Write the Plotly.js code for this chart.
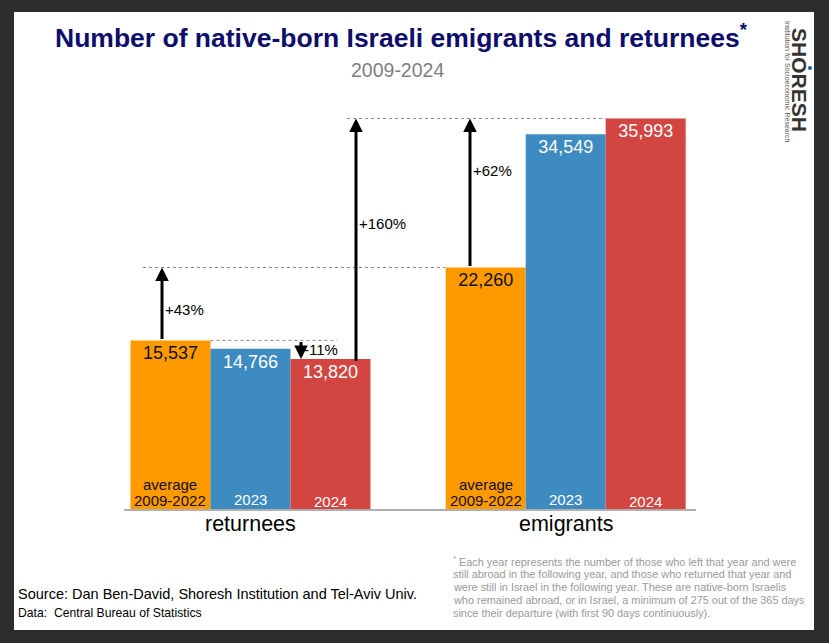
<!DOCTYPE html>
<html><head><meta charset="utf-8">
<script src="https://cdn.plot.ly/plotly-3.0.1.min.js"></script>
<style>html,body{margin:0;padding:0;background:#2d2d2d;overflow:hidden}#chart{width:829px;height:643px}</style>
</head><body><div id="chart"></div><script>
// ---- data ----
const groups = ['returnees', 'emigrants'];
const seriesNames = ['average<br>2009-2022', '2023', '2024'];
const averageValues = [15537, 22260];
const values2023 = [14766, 34549];
const values2024 = [13820, 35993];
const footnoteLines = [
  'Each year represents the number of those who left that year and were',
  'still abroad in the following year, and those who returned that year and',
  'were still in Israel in the following year. These are native-born Israelis',
  'who remained abroad, or in Israel, a minimum of 275 out of the 365 days',
  'since their departure (with first 90 days continuously).'
];

// ---- styling / layout helpers ----
const W = 829, H = 643;
const M = {l: 124, r: 133, t: 75, b: 134};
const plotW = W - M.l - M.r, plotH = H - M.t - M.b;
const G = 3.94;               // distance between group starts (in bar widths)
const xMin = -0.581, xMax = xMin + plotW / 80;
const px2x = p => xMin + (p - M.l) / 80;
const pxToPaperX = p => (p - M.l) / plotW;
const pxToPaperY = p => (H - M.b - p) / plotH;

const colors = ['#FF9900', '#3D8BC0', '#D34541'];
const textColors = ['#111111', '#ffffff', '#ffffff'];
const allSeries = [averageValues, values2023, values2024];
const font = 'Arial, "Liberation Sans", sans-serif';

const traces = allSeries.map((vals, i) => ({
  type: 'bar',
  name: seriesNames[i],
  x: groups.map((g, gi) => gi * G + i),
  y: vals,
  width: 1,
  marker: {color: colors[i], line: {width: 0}},
  texttemplate: '%{y:,}',
  textposition: 'inside',
  insidetextanchor: 'end',
  textangle: 0,
  constraintext: 'none',
  textfont: {family: font, size: 18, color: textColors[i]},
  hoverinfo: 'skip'
}));

const annotations = [];
// labels at the bottom of bars (one annotation per text line, tighter spacing)
const bottomShift = [-2, -1, -3];
allSeries.forEach((vals, i) => {
  const lines = seriesNames[i].split('<br>');
  groups.forEach((g, gi) => {
    lines.forEach((ln, li) => {
      annotations.push({
        x: gi * G + i, y: 0, xref: 'x', yref: 'y',
        text: ln, showarrow: false,
        yanchor: 'bottom', yshift: bottomShift[i] + (lines.length - 1 - li) * 16,
        font: {family: font, size: 15, color: textColors[i]},
        align: 'center'
      });
    });
  });
});
// group labels under the axis
groups.forEach((g, gi) => {
  annotations.push({
    x: gi * G + 1, y: 0, xref: 'x', yref: 'paper', yanchor: 'top', yshift: -1,
    text: g, showarrow: false, font: {family: font, size: 21.5, color: '#000'}
  });
});

// change arrows
const pct = (a, b) => { const v = Math.round((b / a - 1) * 100); return (v > 0 ? '+' : '') + v + '%'; };
const arrows = [
  {xpx: 162, from: averageValues[0], to: averageValues[1], labelFrac: 0.42},
  {xpx: 301, from: averageValues[0], to: values2024[0], labelFrac: 0.5},
  {xpx: 356, from: values2024[0] - 300, to: values2024[1], labelFrac: 0.57, base: values2024[0]},
  {xpx: 470, from: averageValues[1], to: values2024[1], labelFrac: 0.65}
];
arrows.forEach(a => {
  const x = px2x(a.xpx);
  annotations.push({
    x: x, y: a.to, ax: x, ay: a.from, xref: 'x', yref: 'y', axref: 'x', ayref: 'y',
    text: '', showarrow: true, arrowhead: 2, arrowsize: 0.9, arrowwidth: 3,
    arrowcolor: '#000', standoff: 0, startstandoff: 0
  });
  const base = a.base !== undefined ? a.base : a.from;
  const ly = a.from + (a.to - a.from) * a.labelFrac;
  annotations.push({
    x: x, y: ly, xref: 'x', yref: 'y', xanchor: 'left', yanchor: 'middle', xshift: 1,
    text: pct(base, a.to), showarrow: false,
    font: {family: font, size: 15, color: '#000'}
  });
});

// subtitle
annotations.push({
  xref: 'paper', yref: 'paper', x: pxToPaperX(397), y: pxToPaperY(70),
  xanchor: 'center', yanchor: 'middle', text: '2009-2024', showarrow: false,
  font: {family: font, size: 19.5, color: '#7f7f7f'}
});
// source
annotations.push({
  xref: 'paper', yref: 'paper', x: pxToPaperX(16), y: pxToPaperY(594),
  xanchor: 'left', yanchor: 'middle', text: 'Source: Dan Ben-David, Shoresh Institution and Tel-Aviv Univ.',
  showarrow: false, font: {family: font, size: 14.5, color: '#000'}
});
annotations.push({
  xref: 'paper', yref: 'paper', x: pxToPaperX(16), y: pxToPaperY(613),
  xanchor: 'left', yanchor: 'middle', text: 'Data:  Central Bureau of Statistics',
  showarrow: false, font: {family: font, size: 12.2, color: '#000'}
});
// footnote
footnoteLines.forEach((ln, li) => {
  annotations.push({
    xref: 'paper', yref: 'paper', x: pxToPaperX(451), y: pxToPaperY(561 + li * 13),
    xanchor: 'left', yanchor: 'middle', align: 'left', showarrow: false,
    text: (li === 0 ? '<sup>*</sup> ' : '') + ln,
    font: {family: font, size: 10.9, color: '#9a9a9a'}
  });
});
// logo
annotations.push({
  xref: 'paper', yref: 'paper', x: pxToPaperX(800), y: pxToPaperY(80),
  xanchor: 'center', yanchor: 'middle', textangle: 90, showarrow: false,
  text: '<b>SHORESH</b>', font: {family: font, size: 21, color: '#333'}
});
annotations.push({
  xref: 'paper', yref: 'paper', x: pxToPaperX(788), y: pxToPaperY(82),
  xanchor: 'center', yanchor: 'middle', textangle: 90, showarrow: false,
  text: 'Institution for Socioeconomic Research', font: {family: font, size: 7, color: '#555'}
});

const shapes = [
  // white slide panel
  {type: 'rect', layer: 'below', xref: 'paper', yref: 'paper',
   x0: pxToPaperX(14), x1: pxToPaperX(814), y0: pxToPaperY(630), y1: pxToPaperY(12),
   fillcolor: '#ffffff', line: {width: 0}},
  // dotted reference lines
  {type: 'line', xref: 'x', yref: 'y', x0: px2x(143), x1: px2x(445.5), y0: averageValues[1], y1: averageValues[1],
   line: {color: '#8a8a8a', width: 1, dash: 'dot'}},
  {type: 'line', xref: 'x', yref: 'y', x0: 0.5, x1: px2x(337), y0: averageValues[0], y1: averageValues[0],
   line: {color: '#8a8a8a', width: 1, dash: 'dot'}},
  {type: 'line', xref: 'x', yref: 'y', x0: px2x(347), x1: G + 1.5, y0: values2024[1], y1: values2024[1],
   line: {color: '#8a8a8a', width: 1, dash: 'dot'}},
  // logo dot
  {type: 'circle', xref: 'paper', yref: 'paper',
   x0: pxToPaperX(808), x1: pxToPaperX(812), y0: pxToPaperY(70), y1: pxToPaperY(66),
   fillcolor: '#1f5fa0', line: {width: 0}}
];

const layout = {
  width: W, height: H, margin: M,
  paper_bgcolor: '#2d2d2d', plot_bgcolor: 'rgba(0,0,0,0)',
  showlegend: false, barmode: 'overlay', hovermode: false,
  title: {
    text: 'Number of native-born Israeli emigrants and returnees<sup>*</sup>',
    xref: 'paper', x: pxToPaperX(401), xanchor: 'center',
    yref: 'container', y: 1 - 38 / H, yanchor: 'middle',
    font: {family: font, size: 26.5, color: '#0d0d6b', weight: 'bold'}
  },
  xaxis: {range: [xMin, xMax], showgrid: false, zeroline: false, showticklabels: false,
          ticks: '', showline: true, linecolor: '#b0b0b0', linewidth: 1.5, fixedrange: true},
  yaxis: {range: [0, 40000], visible: false, fixedrange: true},
  annotations: annotations,
  shapes: shapes
};

Plotly.newPlot('chart', traces, layout, {staticPlot: true, displayModeBar: false});
</script></body></html>
